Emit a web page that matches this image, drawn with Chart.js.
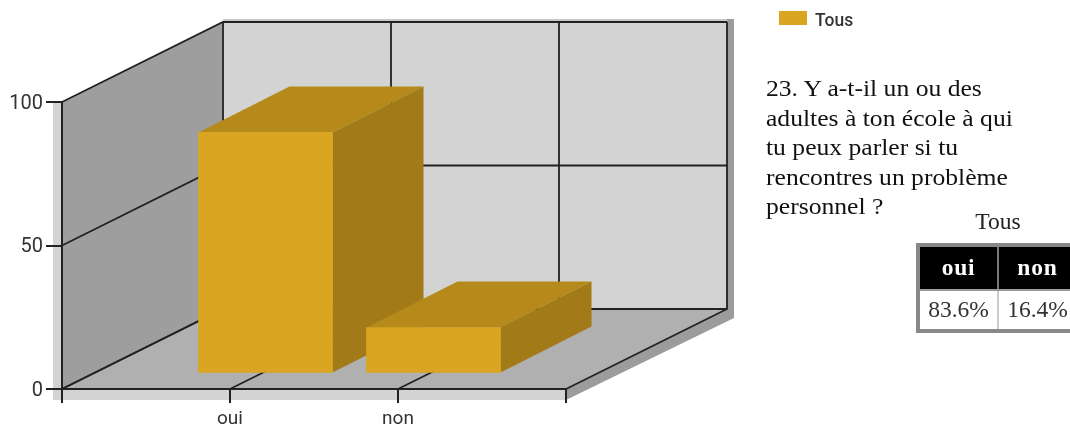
<!DOCTYPE html>
<html lang="fr">
<head>
<meta charset="utf-8">
<title>Tous</title>
<script src="https://cdn.jsdelivr.net/npm/chart.js@4/dist/chart.umd.js"></script>
<style>
  html, body { margin: 0; padding: 0; background: #fff; }
  #page { position: relative; width: 1070px; height: 427px; overflow: hidden; filter: blur(.4px); }
  canvas { position: absolute; left: 0; top: 0; }
  #swatch { position: absolute; left: 779px; top: 11px; width: 28px; height: 14px; }
  #legendText { position: absolute; left: 815px; top: 9px; font: 500 17.5px/22px Roboto, sans-serif; color: #333; white-space: nowrap; }
  #question { position: absolute; left: 766px; top: 74px; font: 23.5px/29.5px "Liberation Serif", serif; color: #111; white-space: nowrap; transform: scaleX(1.09); transform-origin: left top; }
  #tableTitle { position: absolute; left: 958px; width: 80px; top: 208px; text-align: center; font: 23.5px "Liberation Serif", serif; color: #222; }
  table { position: absolute; left: 916px; top: 243px; width: 164px; height: 90px; border-collapse: collapse; border: 4px solid #888; font: 23.5px "Liberation Serif", serif; table-layout: fixed; }
  th { background: #000; color: #fff; font-weight: bold; letter-spacing: .8px; height: 40px; padding: 0 0 2px; border-right: 2px solid #777; border-bottom: 2px solid #999; }
  td { background: #fff; color: #333; text-align: center; padding: 0 0 2px; border-right: 2px solid #ccc; }
</style>
</head>
<body>
<div id="page">
  <canvas id="chart" width="1070" height="427"></canvas>
  <div id="swatch"></div>
  <div id="legendText"></div>
  <div id="question"></div>
  <div id="tableTitle"></div>
  <table><tr id="headRow"></tr><tr id="valueRow"></tr></table>
</div>
<script>
const categories = ['oui', 'non'];
const barValues = [84, 16];
const tablePercents = ['83.6%', '16.4%'];
const yTickValues = [0, 50, 100];
const seriesName = 'Tous';
const questionLines = [
  '23. Y a-t-il un ou des',
  'adultes à ton école à qui',
  'tu peux parler si tu',
  'rencontres un problème',
  'personnel ?'
];

const GOLD = '#DAA520';
const LINE = '#222';
// back of the box relative to the front plane
const DEPTH_X = 161, DEPTH_Y = -80;
// where the bars stand on the floor, and how deep they are
const BAR_DX = 35.5, BAR_DY = -15.5, BAR_DEPTH_X = 91, BAR_DEPTH_Y = -46;

function poly(ctx, pts, fill) {
  ctx.beginPath();
  pts.forEach((p, i) => i ? ctx.lineTo(p[0], p[1]) : ctx.moveTo(p[0], p[1]));
  ctx.closePath();
  ctx.fillStyle = fill;
  ctx.fill();
}

function seg(ctx, pts) {
  ctx.beginPath();
  pts.forEach((p, i) => i ? ctx.lineTo(p[0], p[1]) : ctx.moveTo(p[0], p[1]));
  ctx.stroke();
}

// walls, floor and their grid, behind everything else
const box3d = {
  id: 'box3d',
  beforeDraw(chart) {
    const { ctx, chartArea: a, scales } = chart;
    const bl = a.left + DEPTH_X, br = a.right + DEPTH_X;
    const bt = a.top + DEPTH_Y, bb = a.bottom + DEPTH_Y;
    ctx.save();
    // thickness of the box
    poly(ctx, [[a.right, a.bottom], [a.right, a.bottom + 11], [br + 7, bb + 9], [br + 7, bt - 3], [br, bt - 3], [br, bb]], '#9c9c9c');
    poly(ctx, [[a.left, bt + 80], [bl, bt], [bl, bt - 3], [br, bt - 3], [br, bt], [bl, bt], [a.left, a.top]], '#c8c8c8');
    poly(ctx, [[a.left - 9, a.top], [a.left, a.top], [a.left, a.bottom], [a.right, a.bottom], [a.right, a.bottom + 11], [a.left - 9, a.bottom + 11]], '#d3d3d3');
    // walls
    poly(ctx, [[bl, bt], [br, bt], [br, bb], [bl, bb]], '#d3d3d3');
    poly(ctx, [[a.left, a.top], [bl, bt], [bl, bb], [a.left, a.bottom]], '#9e9e9e');
    poly(ctx, [[a.left, a.bottom], [bl, bb], [br, bb], [a.right, a.bottom]], '#b0b0b0');
    // grid
    ctx.strokeStyle = LINE;
    ctx.lineWidth = 1.8;
    scales.y.ticks.forEach(t => {
      const y = scales.y.getPixelForValue(t.value);
      seg(ctx, [[a.left, y], [bl, y + DEPTH_Y], [br, y + DEPTH_Y]]);
    });
    scales.x.ticks.forEach((t, i) => {
      const x = scales.x.getPixelForTick(i);
      seg(ctx, [[x, a.bottom], [x + DEPTH_X, bb], [x + DEPTH_X, bt]]);
    });
    ctx.restore();
  },
  // top and side of each bar; the library then paints the front faces shifted onto the floor
  beforeDatasetsDraw(chart) {
    const { ctx } = chart;
    const values = chart.data.datasets[0].data;
    ctx.save();
    chart.getDatasetMeta(0).data.forEach((el, i) => {
      if (values[i] === null) return;
      const l = el.x - el.width / 2 + BAR_DX, r = el.x + el.width / 2 + BAR_DX;
      const t = el.y + BAR_DY, b = el.base + BAR_DY;
      poly(ctx, [[l, t], [l + BAR_DEPTH_X, t + BAR_DEPTH_Y], [r + BAR_DEPTH_X, t + BAR_DEPTH_Y], [r, t]], '#B68A1A');
      poly(ctx, [[r, t], [r + BAR_DEPTH_X, t + BAR_DEPTH_Y], [r + BAR_DEPTH_X, b + BAR_DEPTH_Y], [r, b]], '#A27B18');
    });
    ctx.restore();
    ctx.save();
    ctx.translate(BAR_DX, BAR_DY);
  },
  afterDatasetsDraw(chart) {
    chart.ctx.restore();
  }
};

new Chart(document.getElementById('chart'), {
  type: 'bar',
  data: {
    labels: ['', ...categories, ''],
    datasets: [{
      label: seriesName,
      data: [null, ...barValues, null],
      backgroundColor: GOLD,
      barThickness: 134,
      clip: false
    }]
  },
  options: {
    responsive: false,
    animation: false,
    layout: { padding: { top: 102, right: 504 } },
    plugins: { legend: { display: false }, tooltip: { enabled: false } },
    scales: {
      x: {
        offset: false,
        afterFit: s => { s.height = 38; },
        grid: { offset: false, drawOnChartArea: false, color: LINE, lineWidth: 2, tickLength: 14 },
        border: { color: LINE, width: 2 },
        ticks: { autoSkip: false, maxRotation: 0, padding: 5, color: '#333', font: { family: 'Roboto', size: 19 } }
      },
      y: {
        min: 0,
        max: 100,
        afterFit: s => { s.width = 62; },
        afterBuildTicks: s => { s.ticks = yTickValues.map(v => ({ value: v })); },
        grid: { drawOnChartArea: false, color: LINE, lineWidth: 2, tickLength: 16 },
        border: { color: LINE, width: 2 },
        ticks: { padding: 3, labelOffset: 1.5, color: '#333', font: { family: 'Roboto', size: 20 } }
      }
    }
  },
  plugins: [box3d]
});

document.getElementById('swatch').style.background = GOLD;
document.getElementById('legendText').textContent = seriesName;
document.getElementById('question').innerHTML = questionLines.join('<br>');
document.getElementById('tableTitle').textContent = seriesName;
document.getElementById('headRow').innerHTML = categories.map(c => `<th>${c}</th>`).join('');
document.getElementById('valueRow').innerHTML = tablePercents.map(p => `<td>${p}</td>`).join('');
</script>
</body>
</html>
